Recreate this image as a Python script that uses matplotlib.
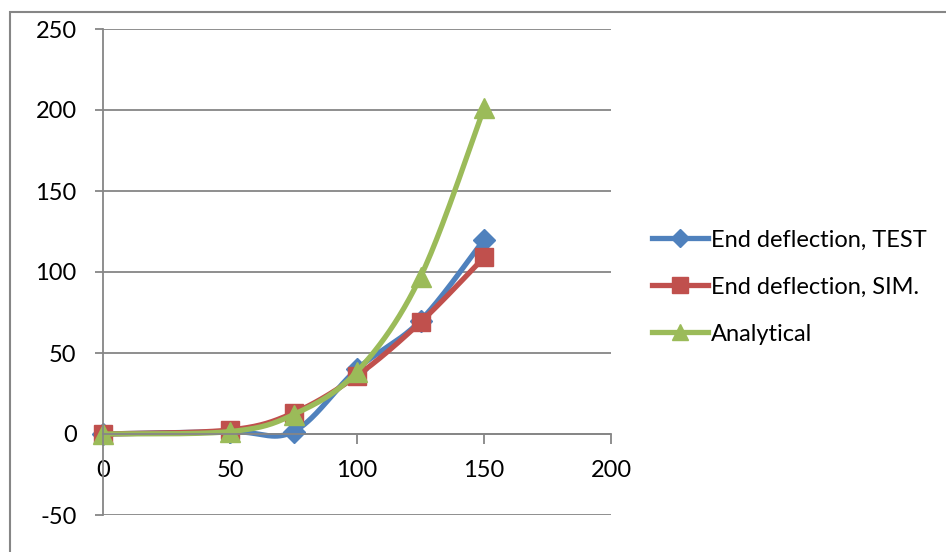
import numpy as np
import matplotlib.pyplot as plt
from matplotlib.patches import Rectangle

plt.rcParams['font.family'] = ['Lato', 'DejaVu Sans']
plt.rcParams['axes.unicode_minus'] = False

load = [0, 50, 75, 100, 125, 150]
test = [0, 1.5, 1.5, 40, 70, 120]
sim = [0, 2.5, 13, 36, 69, 109]
analytical = [0, 1.5, 12, 38.5, 97, 201]

labels = ['End deflection, TEST', 'End deflection, SIM.', 'Analytical']
colors = ['#4F81BD', '#C0504D', '#9BBB59']
markers = ['D', 's', '^']
msizes = [11, 13, 14]


def smooth(x, y, n=40):
    # spreadsheet-style smoothed line: bezier segments with catmull-rom handles
    p = np.column_stack([x, y]).astype(float)
    p = np.vstack([p[0], p, p[-1]])
    out = []
    t = np.linspace(0, 1, n)[:, None]
    for i in range(1, len(p) - 2):
        p0, p3 = p[i], p[i + 1]
        c1 = p0 + (p[i + 1] - p[i - 1]) / 6
        c2 = p3 - (p[i + 2] - p[i]) / 6
        seg = ((1 - t) ** 3 * p0 + 3 * (1 - t) ** 2 * t * c1
               + 3 * (1 - t) * t ** 2 * c2 + t ** 3 * p3)
        out.append(seg)
    out = np.vstack(out)
    return out[:, 0], out[:, 1]


fig = plt.figure(figsize=(9.46, 5.52), dpi=100)
ax = fig.add_axes([103 / 946, 1 - 515 / 552, 508 / 946, 486 / 552])

grid_c = '#868686'
for s, c, m, ms, lab in zip([test, sim, analytical], colors, markers, msizes, labels):
    sx, sy = smooth(load, s)
    ax.plot(sx, sy, color=c, lw=3.8, clip_on=False, solid_capstyle='round')
    ax.plot(load, s, ls='none', marker=m, ms=ms, color=c, clip_on=False)
    ax.plot([], [], color=c, lw=3.8, marker=m, ms=ms * 0.85, label=lab)

ax.set_xlim(0, 200)
ax.set_ylim(-50, 250)
ax.set_xticks(np.arange(0, 201, 50))
ax.set_yticks(np.arange(-50, 251, 50))
ax.yaxis.grid(True, color=grid_c, lw=1.3)
ax.set_axisbelow(True)

for side in ['top', 'right']:
    ax.spines[side].set_visible(False)
for side in ['left', 'bottom']:
    ax.spines[side].set_color(grid_c)
    ax.spines[side].set_linewidth(1.3)
ax.spines['left'].set_position(('data', 0))
# x axis crosses at y = 0
ax.spines['bottom'].set_position(('data', 0))

ax.tick_params(axis='x', direction='out', length=7, width=1.3, color=grid_c,
               labelsize=17, pad=12)
ax.tick_params(axis='y', direction='out', length=6, width=1.3, color=grid_c,
               labelsize=17, pad=13)

ax.legend(loc='center left', bbox_to_anchor=(1.038, 0.469), frameon=False,
          fontsize=17, handlelength=2.4, handletextpad=0.1, labelspacing=1.1)

fig.patches.append(Rectangle((10 / 946, -0.1), 1.2, 1.1 - 12 / 552,
                             transform=fig.transFigure, fill=False,
                             edgecolor=grid_c, lw=1.5))

fig.savefig('out.png', dpi=100)
